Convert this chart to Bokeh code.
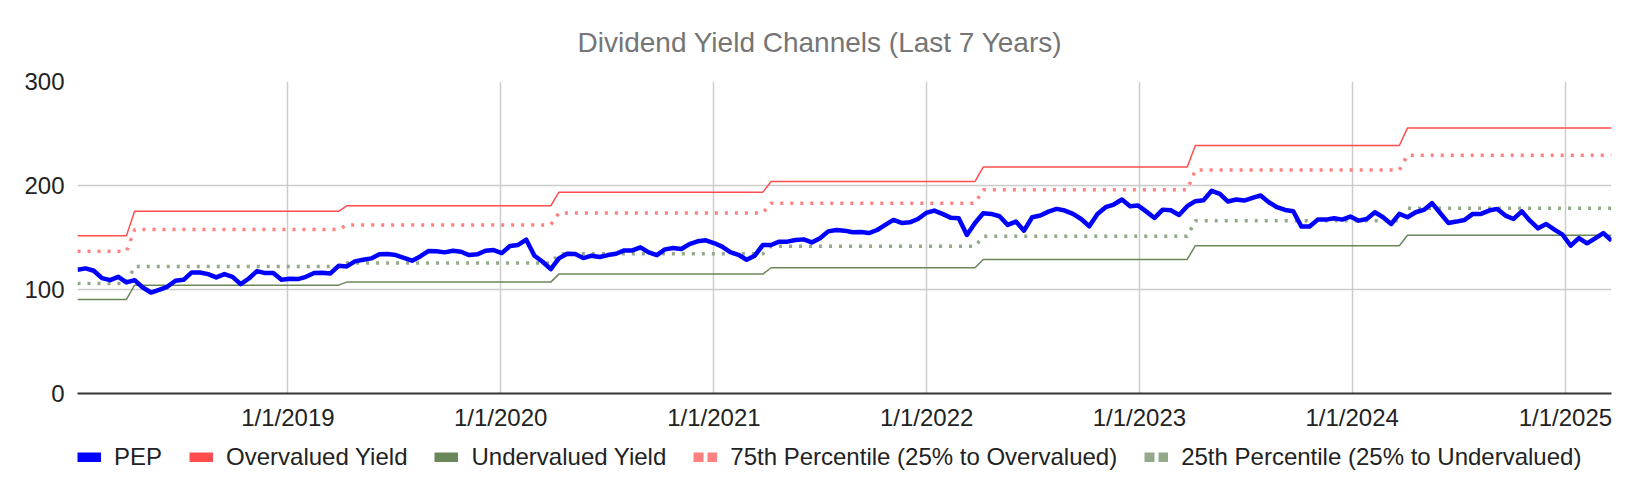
import numpy as np
import pandas as pd
from bokeh.plotting import figure
from bokeh.layouts import column
from bokeh.models import Range1d, FixedTicker, Legend, LegendItem
from bokeh.embed import file_html
from bokeh.resources import INLINE

# ---------------- data ----------------
dates = pd.date_range("2018-01-05", periods=189, freq="14D")

pep = [
    119.0, 120.3, 118.0, 110.9, 109.0, 112.2, 106.8, 109.0, 101.9, 97.1,
    99.7, 102.6, 108.4, 109.3, 116.4, 116.4, 114.8, 111.6, 114.8, 112.2,
    105.1, 110.6, 117.7, 115.8, 115.8, 109.3, 110.3, 110.0, 112.2, 115.8,
    116.1, 115.4, 122.8, 122.2, 127.0, 128.6, 129.9, 133.8, 134.1, 133.1,
    130.5, 127.7, 131.8, 137.0, 136.7, 135.7, 137.3, 136.3, 133.1, 133.8,
    137.3, 137.9, 135.0, 141.8, 142.8, 147.9, 132.5, 126.7, 119.6, 129.9,
    134.4, 134.1, 130.2, 132.5, 131.2, 133.1, 134.4, 137.6, 137.6, 140.5,
    135.7, 133.1, 138.6, 139.9, 138.9, 143.7, 146.3, 147.3, 144.7, 141.2,
    136.0, 133.4, 128.6, 132.5, 142.8, 142.8, 146.0, 146.0, 147.6, 148.2,
    145.3, 149.2, 155.9, 157.2, 156.6, 155.0, 155.3, 154.3, 157.2, 162.1,
    166.9, 164.0, 164.6, 167.8, 173.6, 175.9, 172.7, 169.1, 168.5, 152.4,
    164.0, 173.3, 172.7, 170.4, 162.1, 165.3, 156.6, 169.5, 171.1, 174.9,
    177.5, 175.9, 172.7, 167.8, 160.8, 172.7, 179.1, 181.7, 186.5, 180.1,
    180.7, 174.9, 168.8, 176.8, 176.2, 171.7, 180.1, 184.9, 185.9, 194.9,
    192.0, 184.6, 186.5, 185.5, 188.1, 190.4, 183.9, 179.1, 176.5, 175.2,
    160.5, 160.5, 167.2, 167.2, 168.5, 167.2, 170.1, 166.2, 167.8, 174.3,
    169.5, 163.0, 172.7, 169.5, 174.3, 176.5, 183.0, 173.6, 164.0, 165.3,
    166.9, 172.7, 172.7, 175.9, 177.5, 171.1, 167.8, 175.2, 166.2, 158.8,
    163.0, 157.6, 152.7, 142.1, 149.5, 144.4, 149.2, 154.3, 146.9,
]

# channel levels, each valid from the matching step date onward
step_dates = ["2018-01-05", "2018-04-13", "2019-04-12", "2020-04-10",
              "2021-04-09", "2022-04-08", "2023-04-07", "2024-04-05"]
overvalued = [151.8, 175.2, 180.5, 193.6, 203.9, 217.7, 238.5, 255.4]
p75 = [136.7, 157.6, 162.1, 173.6, 183.0, 195.8, 214.8, 229.2]
p25 = [105.8, 122.2, 125.4, 134.4, 141.5, 151.1, 166.2, 178.1]
undervalued = [90.4, 104.2, 107.1, 114.8, 120.9, 128.9, 142.1, 152.1]

tick_dates = ["2019-01-01", "2020-01-01", "2021-01-01", "2022-01-01",
              "2023-01-01", "2024-01-01", "2025-01-01"]
tick_labels = ["1/1/2019", "1/1/2020", "1/1/2021", "1/1/2022",
               "1/1/2023", "1/1/2024", "1/1/2025"]
y_ticks = [0, 100, 200, 300]

series_names = ["PEP", "Overvalued Yield", "Undervalued Yield",
                "75th Percentile (25% to Overvalued)",
                "25th Percentile (25% to Undervalued)"]

# --------------- expand channel levels per date ---------------
seg = np.searchsorted(pd.to_datetime(step_dates).values, dates.values, side="right") - 1
over_s = np.array(overvalued)[seg]
p75_s = np.array(p75)[seg]
p25_s = np.array(p25)[seg]
under_s = np.array(undervalued)[seg]

FONT = "Liberation Sans"
C_PEP = "#0000ff"
C_OVER = "#ff4d4d"
C_UNDER = "#6a875a"
C_P75 = "#ff8080"
C_P25 = "#93a98a"

p = figure(frame_width=1534, frame_height=312, x_axis_type="datetime",
           output_backend="svg", toolbar_location=None,
           x_range=Range1d(dates[0].to_pydatetime(), dates[-1].to_pydatetime()),
           y_range=Range1d(0, 300),
           min_border_left=77, min_border_right=25,
           min_border_top=81, min_border_bottom=45)
p.outline_line_color = None
p.background_fill_color = "white"

# title
p.title.text = "Dividend Yield Channels (Last 7 Years)"
p.title.align = "left"
p.title.offset = 500
p.title.text_font = FONT
p.title.text_font_size = "28px"
p.title.text_font_style = "normal"
p.title.text_color = "#757575"
p.title.standoff = 47

# axes
tick_ms = [float(v) for v in (pd.to_datetime(tick_dates).astype("int64") // 10**6)]
xt = FixedTicker(ticks=tick_ms)
p.xaxis.ticker = xt
p.xaxis.major_label_overrides = {k: lab for k, lab in zip(tick_ms, tick_labels)}
p.xaxis.axis_line_color = "#333333"
p.xaxis.axis_line_width = 2
p.xaxis.major_tick_line_color = None
p.xaxis.minor_tick_line_color = None
p.xaxis.major_tick_out = 0
p.xaxis.major_tick_in = 0
p.xaxis.minor_tick_out = 0
p.xaxis.major_label_standoff = 10
p.xaxis.major_label_text_font = FONT
p.xaxis.major_label_text_font_size = "24px"
p.xaxis.major_label_text_color = "#222222"

yt = FixedTicker(ticks=y_ticks)
p.yaxis.ticker = yt
p.yaxis.axis_line_color = None
p.yaxis.major_tick_line_color = None
p.yaxis.minor_tick_line_color = None
p.yaxis.major_tick_out = 0
p.yaxis.major_tick_in = 0
p.yaxis.minor_tick_out = 0
p.yaxis.major_label_standoff = 13
p.yaxis.major_label_text_font = FONT
p.yaxis.major_label_text_font_size = "24px"
p.yaxis.major_label_text_color = "#222222"

p.xgrid.ticker = xt
p.ygrid.ticker = yt
p.xgrid.grid_line_color = "#cccccc"
p.ygrid.grid_line_color = "#cccccc"
p.xgrid.grid_line_width = 1.5
p.ygrid.grid_line_width = 1.5

# series
p.line(dates, over_s, line_color=C_OVER, line_width=1.5)
p.line(dates, under_s, line_color=C_UNDER, line_width=1.5)
p.line(dates, p75_s, line_color=C_P75, line_width=3.5, line_dash="3 7")
p.line(dates, p25_s, line_color=C_P25, line_width=3.5, line_dash="3 7")
p.line(dates, pep, line_color=C_PEP, line_width=4.5, line_join="round")

# ---------------- legend strip (separate figure below) ----------------
lg = figure(width=1636, height=56, output_backend="svg", toolbar_location=None,
            x_range=Range1d(0, 1), y_range=Range1d(0, 1),
            x_axis_location=None, y_axis_location=None,
            min_border=0, min_border_left=0, min_border_right=0,
            min_border_top=0, min_border_bottom=0)
lg.outline_line_color = None
lg.grid.visible = False

px = [0.5]
py = [np.nan]
l_pep = lg.line(px, py, line_color=C_PEP, line_width=10)
l_over = lg.line(px, py, line_color=C_OVER, line_width=10)
l_under = lg.line(px, py, line_color=C_UNDER, line_width=10)
l_p75 = lg.line(px, py, line_color=C_P75, line_width=10, line_dash="10 4")
l_p25 = lg.line(px, py, line_color=C_P25, line_width=10, line_dash="10 4")
proxies = [l_pep, l_over, l_under, l_p75, l_p25]

legend = Legend(items=[LegendItem(label=n, renderers=[r]) for n, r in zip(series_names, proxies)],
                orientation="horizontal", location=(0, 23),
                spacing=27, label_standoff=13, glyph_width=24, glyph_height=10,
                label_text_font=FONT, label_text_font_size="24px",
                label_text_color="#222222",
                border_line_color=None, background_fill_alpha=0,
                padding=0, margin=0)
lg.add_layout(legend, "center")

layout = column(p, lg, spacing=0)
open("out.html", "w").write(file_html(layout, INLINE))
